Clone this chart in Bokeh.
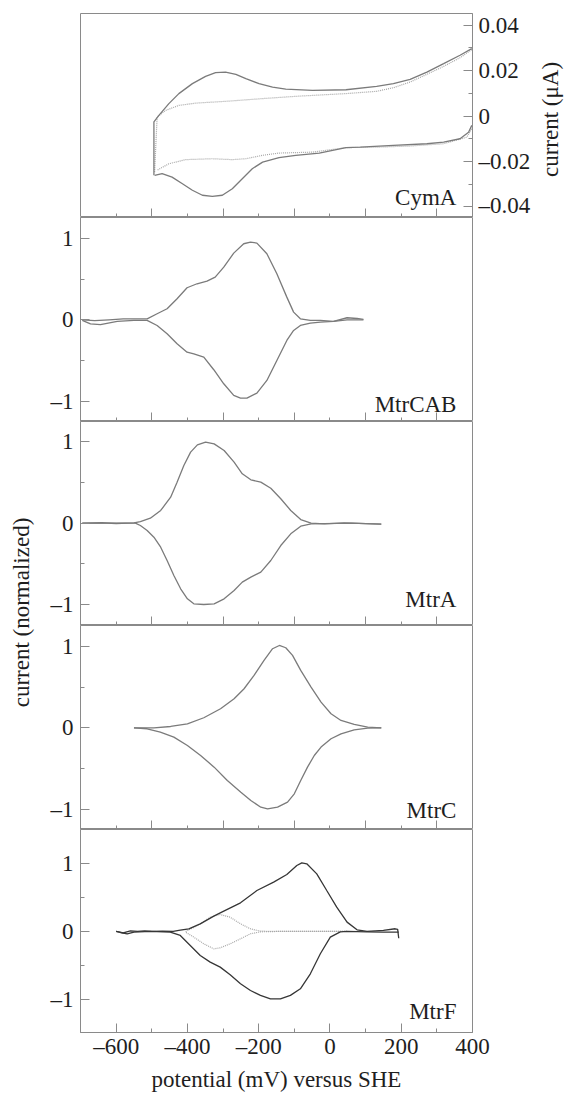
import math
from bokeh.plotting import figure
from bokeh.layouts import column, row
from bokeh.models import Range1d, FixedTicker, Label
from bokeh.embed import file_html
from bokeh.resources import INLINE

# ---------------- data (potential in mV vs SHE, current) ----------------
panel_names = ["CymA", "MtrCAB", "MtrA", "MtrC", "MtrF"]

# CymA (current in uA), solid = protein scan, dotted = baseline scan
cyma_fwd_mv = [-494, -494, -480, -452, -424, -386, -349, -321, -293, -264, -236, -199, -161, -124, -49, 45, 131, 178, 225, 272, 319, 365, 398]
cyma_fwd_i = [-0.0261, -0.0026, 0.0003, 0.0055, 0.0099, 0.0143, 0.0175, 0.0191, 0.0194, 0.0184, 0.0165, 0.0143, 0.0128, 0.0119, 0.0113, 0.0116, 0.0131, 0.0143, 0.0162, 0.0194, 0.0231, 0.0268, 0.0297]
cyma_rev_mv = [398, 389, 365, 319, 272, 178, 85, 45, -30, -96, -143, -189, -218, -246, -274, -302, -330, -358, -386, -414, -443, -471, -492]
cyma_rev_i = [-0.0041, -0.0071, -0.0100, -0.0115, -0.0122, -0.0129, -0.0137, -0.0139, -0.0163, -0.0173, -0.0183, -0.0203, -0.0232, -0.0276, -0.0320, -0.0349, -0.0354, -0.0349, -0.0327, -0.0298, -0.0269, -0.0254, -0.0261]
cyma_base_fwd_mv = [-492, -485, -461, -424, -377, -283, -189, -96, 45, 131, 178, 225, 272, 319, 365, 398]
cyma_base_fwd_i = [-0.0247, -0.0004, 0.0025, 0.0047, 0.0057, 0.0066, 0.0077, 0.0087, 0.0099, 0.0109, 0.0125, 0.0150, 0.0184, 0.0219, 0.0257, 0.0293]
cyma_base_rev_mv = [398, 384, 319, 225, 131, 45, -49, -143, -189, -236, -274, -330, -405, -452, -485]
cyma_base_rev_i = [-0.0056, -0.0093, -0.0122, -0.0132, -0.0137, -0.0139, -0.0159, -0.0163, -0.0173, -0.0188, -0.0192, -0.0188, -0.0192, -0.0210, -0.0239]

# MtrCAB (normalized)
mtrcab_fwd_mv = [-695, -660, -620, -580, -550, -513, -485, -457, -429, -401, -373, -345, -322, -298, -270, -242, -223, -205, -177, -149, -121, -102, -83, -55, -27, 10, 48, 76, 94]
mtrcab_fwd_i = [0.0, -0.01, 0.0, 0.01, 0.01, 0.012, 0.074, 0.135, 0.258, 0.393, 0.442, 0.474, 0.524, 0.646, 0.818, 0.933, 0.953, 0.941, 0.810, 0.564, 0.278, 0.094, 0.012, -0.008, -0.008, -0.02, 0.025, 0.016, 0.004]
mtrcab_rev_mv = [94, 48, 10, -27, -55, -83, -102, -121, -149, -177, -205, -233, -251, -270, -298, -326, -354, -382, -401, -429, -457, -485, -513, -550, -597, -644, -672, -695]
mtrcab_rev_i = [0.0, 0.0, -0.02, -0.029, -0.041, -0.07, -0.131, -0.254, -0.499, -0.744, -0.9, -0.961, -0.961, -0.928, -0.785, -0.613, -0.458, -0.417, -0.397, -0.294, -0.172, -0.07, -0.008, -0.008, -0.02, -0.06, -0.05, -0.008]

# MtrA (normalized)
mtra_fwd_mv = [-695, -640, -600, -550, -532, -504, -475, -447, -429, -410, -391, -372, -349, -325, -297, -269, -246, -222, -194, -166, -138, -110, -82, -53, -16, 40, 100, 144]
mtra_fwd_i = [0.0, 0.005, -0.004, 0.004, 0.02, 0.061, 0.156, 0.32, 0.504, 0.709, 0.873, 0.963, 0.996, 0.975, 0.893, 0.75, 0.607, 0.533, 0.504, 0.43, 0.3, 0.156, 0.045, 0.0, -0.008, 0.004, -0.006, -0.012]
mtra_rev_mv = [144, 60, -16, -53, -82, -110, -138, -166, -194, -222, -246, -269, -297, -325, -354, -382, -400, -419, -438, -457, -475, -494, -513, -532, -546, -600, -650, -695]
mtra_rev_i = [-0.012, 0.0, -0.005, -0.008, -0.037, -0.131, -0.275, -0.459, -0.602, -0.664, -0.725, -0.828, -0.93, -0.992, -1.0, -0.992, -0.93, -0.807, -0.643, -0.459, -0.295, -0.172, -0.09, -0.029, 0.0, 0.0, 0.0, 0.0]

# MtrC (normalized)
mtrc_fwd_mv = [-550, -494, -447, -400, -354, -307, -269, -241, -213, -185, -161, -142, -124, -105, -82, -53, -25, 3, 31, 68, 106, 144]
mtrc_fwd_i = [0.0, 0.0, 0.016, 0.049, 0.123, 0.233, 0.356, 0.479, 0.643, 0.827, 0.97, 1.01, 0.982, 0.888, 0.704, 0.499, 0.315, 0.172, 0.09, 0.041, 0.008, 0.0]
mtrc_rev_mv = [144, 106, 68, 31, 3, -25, -44, -63, -82, -100, -119, -147, -175, -194, -222, -250, -288, -325, -363, -400, -438, -476, -513, -550]
mtrc_rev_i = [0.0, -0.004, -0.025, -0.074, -0.135, -0.237, -0.34, -0.483, -0.647, -0.81, -0.913, -0.974, -0.995, -0.974, -0.892, -0.79, -0.647, -0.483, -0.34, -0.217, -0.115, -0.053, -0.012, 0.0]

# MtrF (normalized), solid = measured, dotted = minor component
mtrf_fwd_mv = [-600, -580, -560, -540, -520, -500, -470, -440, -420, -396, -364, -326, -298, -251, -205, -158, -121, -93, -79, -65, -37, -9, 19, 48, 76, 104, 150, 183, 190, 193]
mtrf_fwd_i = [0.0, -0.02, 0.01, 0.0, 0.01, 0.0, 0.005, 0.0, 0.02, 0.039, 0.113, 0.226, 0.3, 0.423, 0.604, 0.727, 0.84, 0.973, 1.012, 0.998, 0.85, 0.604, 0.359, 0.138, 0.025, 0.0, 0.015, 0.04, 0.03, -0.1]
mtrf_rev_mv = [193, 150, 104, 48, 29, 1, -27, -55, -83, -111, -139, -167, -195, -223, -251, -280, -308, -336, -364, -392, -420, -448, -504, -550, -569, -588, -600]
mtrf_rev_i = [-0.01, -0.01, -0.005, 0.0, -0.005, -0.084, -0.329, -0.624, -0.845, -0.943, -0.993, -0.993, -0.943, -0.87, -0.771, -0.639, -0.526, -0.452, -0.354, -0.206, -0.059, -0.01, 0.0, -0.01, -0.034, -0.015, 0.0]
mtrf_comp_fwd_mv = [-405, -382, -364, -336, -308, -280, -251, -223, -195, -150, -50, 48]
mtrf_comp_fwd_i = [0.0, 0.06, 0.113, 0.211, 0.25, 0.211, 0.113, 0.039, 0.005, 0.0, 0.0, 0.0]
mtrf_comp_rev_mv = [48, -50, -150, -195, -223, -251, -280, -308, -326, -354, -382, -405]
mtrf_comp_rev_i = [0.0, 0.0, 0.0, -0.005, -0.034, -0.108, -0.182, -0.241, -0.256, -0.182, -0.084, -0.01]

# ticks and tick labels
x_ticks_labeled = [-600, -400, -200, 0, 200, 400]
x_tick_labels = ["\u2013600", "\u2013400", "\u2013200", "0", "200", "400"]
x_ticks_odd = [-500, -300, -100, 100, 300]
norm_ticks = [-1, 0, 1]
norm_tick_labels = ["\u20131", "0", "1"]
norm_minor = [-0.5, 0.5]
cyma_ticks = [-0.04, -0.02, 0, 0.02, 0.04]
cyma_tick_labels = ["\u20130.04", "\u20130.02", "0", "0.02", "0.04"]
cyma_minor = [-0.03, -0.01, 0.01, 0.03]

# ---------------- styling ----------------
FONT = "Liberation Serif"
FS = "23px"
AX = "#8a8a8a"
TXT = "#1e1e1e"
CURVE = "#7b7b7b"
DOT = "#a6a6a6"
DARK = "#363636"

FRAME_W = 392
LEFT_B = 42
RIGHT_B = 61
LABEL_W = 38
RLABEL_W = 31
TOP_B = 13

x_range = Range1d(-700, 400)


def style_axis(ax, ticks, minor, labels):
    ax.ticker = FixedTicker(ticks=ticks, minor_ticks=minor)
    ax.axis_line_color = AX
    ax.major_tick_line_color = AX
    ax.minor_tick_line_color = AX
    ax.major_tick_in = 9
    ax.major_tick_out = 0
    ax.minor_tick_in = 4
    ax.minor_tick_out = 0
    ax.major_label_overrides = dict(zip(ticks, labels))
    ax.major_label_text_font = FONT
    ax.major_label_text_font_size = FS
    ax.major_label_text_color = TXT


def panel(y_lo, y_hi, frame_h, top_b, bottom_b, y_loc):
    p = figure(frame_width=FRAME_W, frame_height=frame_h,
               x_range=x_range, y_range=Range1d(y_lo, y_hi),
               min_border_left=LEFT_B, min_border_right=RIGHT_B,
               min_border_top=top_b, min_border_bottom=bottom_b,
               x_axis_location="below", y_axis_location=y_loc,
               toolbar_location=None, tools="", output_backend="svg")
    p.grid.visible = False
    p.outline_line_color = AX
    p.outline_line_width = 1
    p.background_fill_color = "white"
    p.border_fill_color = "white"
    return p


def inner_x_axis(p, y_lo):
    # unlabelled inward ticks on the shared panel boundary
    ax = p.xaxis[0]
    style_axis(ax, x_ticks_odd, x_ticks_labeled[:-1], [""] * len(x_ticks_odd))
    ax.fixed_location = y_lo


def name_label(p, y, text):
    p.add_layout(Label(x=355, y=y, text=text, text_align="right",
                       text_baseline="alphabetic", text_font=FONT,
                       text_font_size=FS, text_color=TXT))


# ---- CymA ----
CY_LO, CY_HI = -0.0447, 0.0452
p1 = panel(CY_LO, CY_HI, 204, TOP_B, 0, "right")
inner_x_axis(p1, CY_LO)
style_axis(p1.yaxis[0], cyma_ticks, cyma_minor, cyma_tick_labels)
p1.yaxis[0].major_label_standoff = 6
p1.line(cyma_base_fwd_mv, cyma_base_fwd_i, line_color=DOT, line_width=1.2, line_dash="1 1")
p1.line(cyma_base_rev_mv, cyma_base_rev_i, line_color=DOT, line_width=1.2, line_dash="1 1")
p1.line(cyma_fwd_mv, cyma_fwd_i, line_color=CURVE, line_width=1.3)
p1.line(cyma_rev_mv, cyma_rev_i, line_color=CURVE, line_width=1.3)
name_label(p1, -0.0357, panel_names[0])


def norm_panel(y_lo, y_hi, frame_h, bottom_b, last):
    p = panel(y_lo, y_hi, frame_h, 0, bottom_b, "left")
    if last:
        style_axis(p.xaxis[0], x_ticks_labeled, x_ticks_odd, x_tick_labels)
        p.xaxis[0].major_label_standoff = 1
        p.xaxis[0].axis_label = "potential (mV) versus SHE"
        p.xaxis[0].axis_label_text_font = FONT
        p.xaxis[0].axis_label_text_font_size = FS
        p.xaxis[0].axis_label_text_font_style = "normal"
        p.xaxis[0].axis_label_text_color = TXT
        p.xaxis[0].axis_label_standoff = 5
    else:
        inner_x_axis(p, y_lo)
    style_axis(p.yaxis[0], norm_ticks, norm_minor, norm_tick_labels)
    p.yaxis[0].major_label_standoff = 7
    return p


p2 = norm_panel(-1.248, 1.255, 204, 0, False)
p2.line(mtrcab_fwd_mv, mtrcab_fwd_i, line_color=CURVE, line_width=1.3)
p2.line(mtrcab_rev_mv, mtrcab_rev_i, line_color=CURVE, line_width=1.3)
name_label(p2, -1.043, panel_names[1])

p3 = norm_panel(-1.258, 1.25, 204, 0, False)
p3.line(mtra_fwd_mv, mtra_fwd_i, line_color=CURVE, line_width=1.3)
p3.line(mtra_rev_mv, mtra_rev_i, line_color=CURVE, line_width=1.3)
name_label(p3, -0.94, panel_names[2])

p4 = norm_panel(-1.248, 1.255, 204, 0, False)
p4.line(mtrc_fwd_mv, mtrc_fwd_i, line_color=CURVE, line_width=1.3)
p4.line(mtrc_rev_mv, mtrc_rev_i, line_color=CURVE, line_width=1.3)
name_label(p4, -1.02, panel_names[3])

p5 = norm_panel(-1.49, 1.504, 203, 57, True)
p5.line(mtrf_comp_fwd_mv, mtrf_comp_fwd_i, line_color=DOT, line_width=1.2, line_dash="1 1")
p5.line(mtrf_comp_rev_mv, mtrf_comp_rev_i, line_color=DOT, line_width=1.2, line_dash="1 1")
p5.line(mtrf_fwd_mv, mtrf_fwd_i, line_color=DARK, line_width=1.3)
p5.line(mtrf_rev_mv, mtrf_rev_i, line_color=DARK, line_width=1.3)
name_label(p5, -1.175, panel_names[4])

TOTAL_H = TOP_B + 204 * 4 + 203 + 57


def label_strip(width, x, y_from_top, text):
    f = figure(frame_width=width, frame_height=TOTAL_H,
               x_range=Range1d(0, width), y_range=Range1d(0, TOTAL_H),
               min_border=0, x_axis_location=None, y_axis_location=None,
               toolbar_location=None, tools="", output_backend="svg")
    f.grid.visible = False
    f.outline_line_color = None
    f.border_fill_color = "white"
    f.background_fill_color = "white"
    f.add_layout(Label(x=x, y=TOTAL_H - y_from_top, text=text,
                       angle=math.pi / 2, text_align="center", text_baseline="middle",
                       text_font=FONT, text_font_size=FS, text_color=TXT))
    return f


# shared y label (normalized panels) and CymA's right-hand axis label
lab = label_strip(LABEL_W, 21, 612, "current (normalized)")
rlab = label_strip(RLABEL_W, 17, 119, "current (\u03bcA)")

layout = row(lab, column(p1, p2, p3, p4, p5, spacing=0), rlab, spacing=0)

with open("out.html", "w") as f:
    f.write(file_html(layout, INLINE))
